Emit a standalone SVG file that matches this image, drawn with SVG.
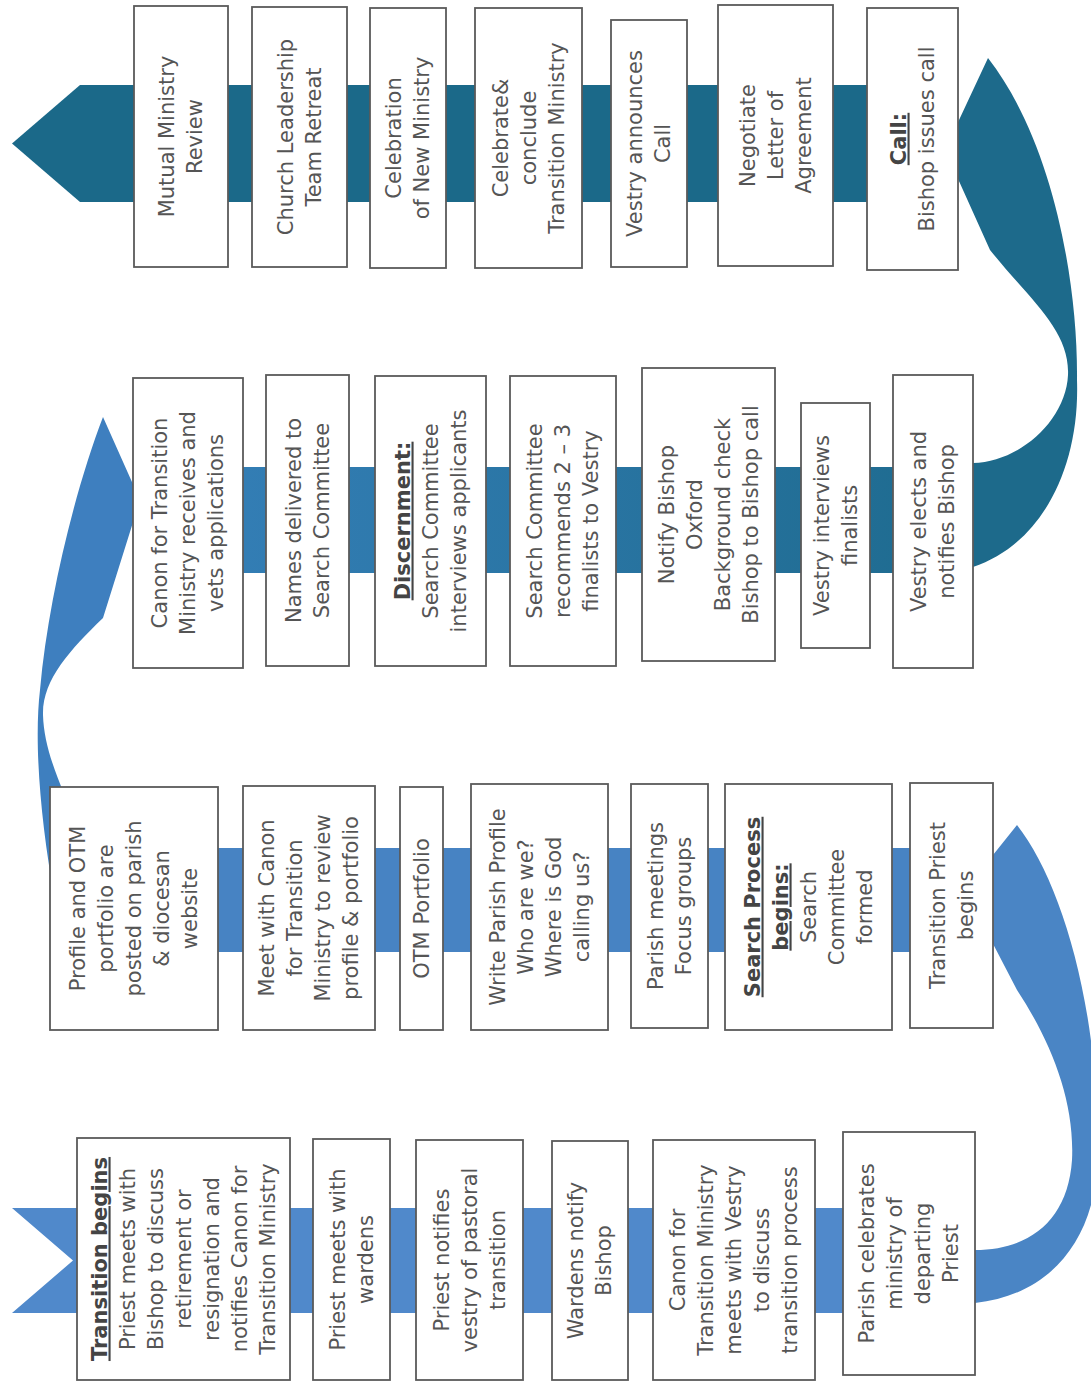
<svg xmlns="http://www.w3.org/2000/svg" width="1091" height="1384" viewBox="0 0 1091 1384">
<style>
.box{fill:#fff;stroke:#5a5a5a;stroke-width:1.8}
.t{font-family:"DejaVu Sans",sans-serif;font-size:21px;fill:#555;text-anchor:middle}
.b{font-weight:bold;text-decoration:underline;fill:#444}
</style>
<defs>
<linearGradient id="g3" gradientUnits="userSpaceOnUse" x1="130" y1="0" x2="960" y2="0">
<stop offset="0" stop-color="#3680ba"/>
<stop offset="1" stop-color="#1e6b8f"/>
</linearGradient>
</defs>
<rect width="1091" height="1384" fill="#fff"/>
<g id="connectors">
<polygon points="12,1208 975,1208 975,1313 12,1313 73,1260.5" fill="#5089cb"/>
<path d="M960,1303 L975,1303 C1050,1295 1098,1240 1098,1150 C1098,1000 1060,880 1017,825 L965,890 L1017,990 C1050,1040 1075,1100 1072,1160 C1068,1220 1030,1250 975,1250 L960,1250 Z" fill="#4a85c5"/>
<rect x="60" y="848" width="925" height="104" fill="#4783c3"/>
<path d="M80,900 L55,900 C40,820 34,740 40,690 C48,600 75,490 103,417 L140,500 L103,618 C70,650 42,680 43,715 C44,750 60,785 80,830 Z" fill="#3e7fbf"/>
<rect x="140" y="467" width="825" height="106" fill="url(#g3)"/>
<path d="M960,567 L973,567 C1040,545 1080,470 1077,380 C1078,280 1052,140 988,58 L945,150 L990,250 C1030,300 1070,330 1068,375 C1066,420 1020,462 973,463 L960,463 Z" fill="#1d6a8b"/>
<polygon points="12,143.5 80,85 950,85 950,202 80,202" fill="#1b6989"/>
</g>
<!-- Row 1 -->
<g id="n1"><rect class="box" x="77" y="1138" width="213" height="242"/>
<text class="t" transform="translate(183.5,1259) rotate(-90)"><tspan class="b" x="0" y="-77">Transition begins</tspan><tspan x="0" y="-49">Priest meets with</tspan><tspan x="0" y="-21">Bishop to discuss</tspan><tspan x="0" y="7">retirement or</tspan><tspan x="0" y="35">resignation and</tspan><tspan x="0" y="63">notifies Canon for</tspan><tspan x="0" y="91">Transition Ministry</tspan></text></g>
<g id="n2"><rect class="box" x="313" y="1139" width="77" height="241"/>
<text class="t" transform="translate(351.5,1259.5) rotate(-90)"><tspan x="0" y="-7">Priest meets with</tspan><tspan x="0" y="21">wardens</tspan></text></g>
<g id="n3"><rect class="box" x="416" y="1140" width="107" height="240"/>
<text class="t" transform="translate(469.5,1260) rotate(-90)"><tspan x="0" y="-21">Priest notifies</tspan><tspan x="0" y="7">vestry of pastoral</tspan><tspan x="0" y="35">transition</tspan></text></g>
<g id="n4"><rect class="box" x="552" y="1141" width="76" height="239"/>
<text class="t" transform="translate(590,1260.5) rotate(-90)"><tspan x="0" y="-7">Wardens notify</tspan><tspan x="0" y="21">Bishop</tspan></text></g>
<g id="n5"><rect class="box" x="653" y="1140" width="162" height="240"/>
<text class="t" transform="translate(734,1260) rotate(-90)"><tspan x="0" y="-49">Canon for</tspan><tspan x="0" y="-21">Transition Ministry</tspan><tspan x="0" y="7">meets with Vestry</tspan><tspan x="0" y="35">to discuss</tspan><tspan x="0" y="63">transition process</tspan></text></g>
<g id="n6"><rect class="box" x="843" y="1132" width="132" height="243"/>
<text class="t" transform="translate(909,1253.5) rotate(-90)"><tspan x="0" y="-35">Parish celebrates</tspan><tspan x="0" y="-7">ministry of</tspan><tspan x="0" y="21">departing</tspan><tspan x="0" y="49">Priest</tspan></text></g>
<!-- Row 2 -->
<g id="n7"><rect class="box" x="910" y="783" width="83" height="245"/>
<text class="t" transform="translate(951.5,905.5) rotate(-90)"><tspan x="0" y="-7">Transition Priest</tspan><tspan x="0" y="21">begins</tspan></text></g>
<g id="n8"><rect class="box" x="725" y="784" width="167" height="246"/>
<text class="t" transform="translate(808.5,907) rotate(-90)"><tspan class="b" x="0" y="-49">Search Process</tspan><tspan class="b" x="0" y="-21">begins:</tspan><tspan x="0" y="7">Search</tspan><tspan x="0" y="35">Committee</tspan><tspan x="0" y="63">formed</tspan></text></g>
<g id="n9"><rect class="box" x="631" y="784" width="77" height="244"/>
<text class="t" transform="translate(669.5,906) rotate(-90)"><tspan x="0" y="-7">Parish meetings</tspan><tspan x="0" y="21">Focus groups</tspan></text></g>
<g id="n10"><rect class="box" x="471" y="784" width="137" height="246"/>
<text class="t" transform="translate(539.5,907) rotate(-90)"><tspan x="0" y="-35">Write Parish Profile</tspan><tspan x="0" y="-7">Who are we?</tspan><tspan x="0" y="21">Where is God</tspan><tspan x="0" y="49">calling us?</tspan></text></g>
<g id="n11"><rect class="box" x="400" y="787" width="43" height="243"/>
<text class="t" transform="translate(421.5,908.5) rotate(-90)"><tspan x="0" y="7">OTM Portfolio</tspan></text></g>
<g id="n12"><rect class="box" x="243" y="786" width="132" height="244"/>
<text class="t" transform="translate(309,908) rotate(-90)"><tspan x="0" y="-35">Meet with Canon</tspan><tspan x="0" y="-7">for Transition</tspan><tspan x="0" y="21">Ministry to review</tspan><tspan x="0" y="49">profile &amp; portfolio</tspan></text></g>
<g id="n13"><rect class="box" x="50" y="787" width="168" height="243"/>
<text class="t" transform="translate(134,908.5) rotate(-90)"><tspan x="0" y="-49">Profile and OTM</tspan><tspan x="0" y="-21">portfolio are</tspan><tspan x="0" y="7">posted on parish</tspan><tspan x="0" y="35">&amp; diocesan</tspan><tspan x="0" y="63">website</tspan></text></g>
<!-- Row 3 -->
<g id="n14"><rect class="box" x="133" y="378" width="110" height="290"/>
<text class="t" transform="translate(188,523) rotate(-90)"><tspan x="0" y="-21">Canon for Transition</tspan><tspan x="0" y="7">Ministry receives and</tspan><tspan x="0" y="35">vets applications</tspan></text></g>
<g id="n15"><rect class="box" x="266" y="375" width="83" height="291"/>
<text class="t" transform="translate(307.5,520.5) rotate(-90)"><tspan x="0" y="-7">Names delivered to</tspan><tspan x="0" y="21">Search Committee</tspan></text></g>
<g id="n16"><rect class="box" x="375" y="376" width="111" height="290"/>
<text class="t" transform="translate(430.5,521) rotate(-90)"><tspan class="b" x="0" y="-21">Discernment:</tspan><tspan x="0" y="7">Search Committee</tspan><tspan x="0" y="35">interviews applicants</tspan></text></g>
<g id="n17"><rect class="box" x="510" y="376" width="106" height="290"/>
<text class="t" transform="translate(563,521) rotate(-90)"><tspan x="0" y="-21">Search Committee</tspan><tspan x="0" y="7">recommends 2 – 3</tspan><tspan x="0" y="35">finalists to Vestry</tspan></text></g>
<g id="n18"><rect class="box" x="642" y="368" width="133" height="293"/>
<text class="t" transform="translate(708.5,514.5) rotate(-90)"><tspan x="0" y="-35">Notify Bishop</tspan><tspan x="0" y="-7">Oxford</tspan><tspan x="0" y="21">Background check</tspan><tspan x="0" y="49">Bishop to Bishop call</tspan></text></g>
<g id="n19"><rect class="box" x="801" y="403" width="69" height="245"/>
<text class="t" transform="translate(835.5,525.5) rotate(-90)"><tspan x="0" y="-7">Vestry interviews</tspan><tspan x="0" y="21">finalists</tspan></text></g>
<g id="n20"><rect class="box" x="893" y="375" width="80" height="293"/>
<text class="t" transform="translate(933,521.5) rotate(-90)"><tspan x="0" y="-7">Vestry elects and</tspan><tspan x="0" y="21">notifies Bishop</tspan></text></g>
<!-- Row 4 -->
<g id="n21"><rect class="box" x="867" y="8" width="91" height="262"/>
<text class="t" transform="translate(912.5,139) rotate(-90)"><tspan class="b" x="0" y="-7">Call:</tspan><tspan x="0" y="21">Bishop issues call</tspan></text></g>
<g id="n22"><rect class="box" x="718" y="5" width="115" height="261"/>
<text class="t" transform="translate(775.5,135.5) rotate(-90)"><tspan x="0" y="-21">Negotiate</tspan><tspan x="0" y="7">Letter of</tspan><tspan x="0" y="35">Agreement</tspan></text></g>
<g id="n23"><rect class="box" x="611" y="20" width="76" height="247"/>
<text class="t" transform="translate(649,143.5) rotate(-90)"><tspan x="0" y="-7">Vestry announces</tspan><tspan x="0" y="21">Call</tspan></text></g>
<g id="n24"><rect class="box" x="475" y="8" width="107" height="260"/>
<text class="t" transform="translate(528.5,138) rotate(-90)"><tspan x="0" y="-21">Celebrate&amp;</tspan><tspan x="0" y="7">conclude</tspan><tspan x="0" y="35">Transition Ministry</tspan></text></g>
<g id="n25"><rect class="box" x="370" y="8" width="76" height="260"/>
<text class="t" transform="translate(408,138) rotate(-90)"><tspan x="0" y="-7">Celebration</tspan><tspan x="0" y="21">of New Ministry</tspan></text></g>
<g id="n26"><rect class="box" x="252" y="7" width="95" height="260"/>
<text class="t" transform="translate(299.5,137) rotate(-90)"><tspan x="0" y="-7">Church Leadership</tspan><tspan x="0" y="21">Team Retreat</tspan></text></g>
<g id="n27"><rect class="box" x="134" y="6" width="94" height="261"/>
<text class="t" transform="translate(181,136.5) rotate(-90)"><tspan x="0" y="-7">Mutual Ministry</tspan><tspan x="0" y="21">Review</tspan></text></g>
</svg>
